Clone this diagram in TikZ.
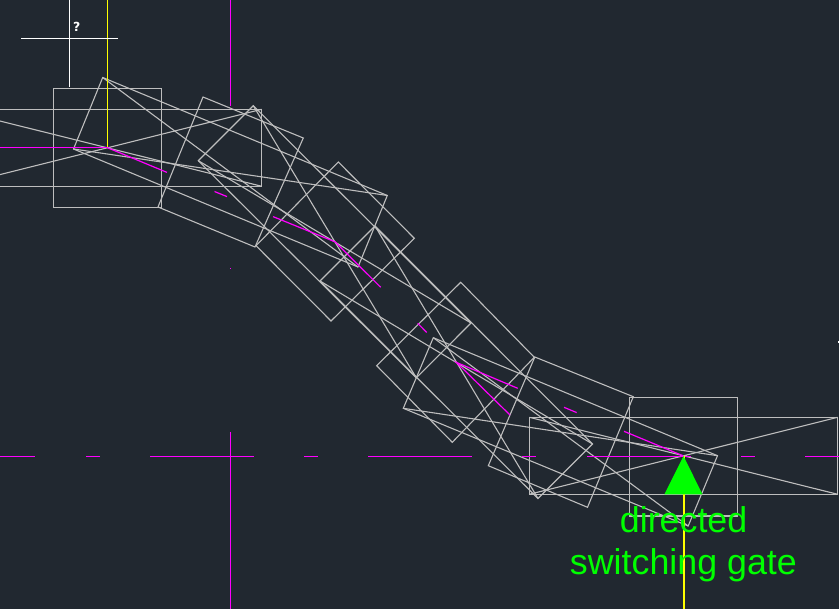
\documentclass[tikz,border=0pt]{standalone}
\usepackage{fontspec}
\setmainfont{Liberation Sans}
\newfontfamily\qfont{DejaVu Sans}
\definecolor{bgc}{HTML}{212830}
\definecolor{gatec}{HTML}{BEBEBE}
\definecolor{magc}{HTML}{FF00FF}
\definecolor{yelc}{HTML}{FFFF00}
\definecolor{grnc}{HTML}{00FF00}
\tikzset{
  blockline/.style={draw=gatec,line width=1.1pt,line join=miter},
  axisline/.style={draw=magc,line width=1.2pt},
  centreline/.style={draw=yelc,line width=2pt},
  cursorline/.style={draw=white,line width=1.1pt},
  gatetext/.style={text=grnc,font=\fontsize{35.8}{36}\selectfont,anchor=base,inner sep=0pt},
}
\newcommand{\gatebox}[8]{%
  \draw[blockline] (#1,#2) -- (#3,#4) -- (#5,#6) -- (#7,#8) -- cycle;
  \draw[blockline] (#1,#2) -- (#5,#6) (#3,#4) -- (#7,#8);}
\newcommand{\blockbox}[8]{%
  \draw[blockline] (#1,#2) -- (#3,#4) -- (#5,#6) -- (#7,#8) -- cycle;}
\begin{document}
\begin{tikzpicture}[x=1pt,y=-1pt]
\fill[bgc] (0,0) rectangle (839,609);
\useasboundingbox (0,0) rectangle (839,609);
\clip (0,0) rectangle (839,609);
% blocks and gates
\blockbox{53.3}{88.3}{161.7}{88.3}{161.7}{207.3}{53.3}{207.3}
\gatebox{-47}{109.3}{261.7}{109.3}{261.7}{186.3}{-47}{186.3}
\blockbox{203}{97}{303.3}{138}{255}{247}{158}{207}
\gatebox{102.7}{77.5}{387.3}{195.5}{358}{267}{73.5}{149}
\blockbox{338.3}{162}{414.3}{238.3}{331}{321}{256}{245.7}
\gatebox{253.3}{105.7}{471}{323}{416.3}{377.8}{198.3}{160.7}
\blockbox{460.7}{282.3}{534.3}{357.3}{452.3}{442.3}{376.7}{365.7}
\gatebox{375}{226}{592.5}{444}{538}{498.5}{320}{281}
\blockbox{534.8}{357}{633.3}{396.7}{587.5}{507.3}{488.3}{465.7}
\gatebox{433.3}{337.7}{717.5}{455.7}{688.2}{526}{403.3}{408.3}
\blockbox{629.3}{397.3}{737.7}{397.3}{737.7}{516}{629.3}{516}
\gatebox{529.3}{417.3}{837.7}{417.3}{837.7}{494.3}{529.3}{494.3}
% axes
\draw[axisline] (0,456.5) -- (35,456.5) (86,456.5) -- (100,456.5) (150,456.5) -- (254,456.5)
  (304,456.5) -- (318,456.5) (368,456.5) -- (472,456.5) (522,456.5) -- (536,456.5)
  (587,456.5) -- (691,456.5) (741,456.5) -- (755,456.5) (805,456.5) -- (839,456.5);
\draw[axisline] (230.5,0) -- (230.5,106) (230.5,432) -- (230.5,609);
\fill[magc] (230,268.5) rectangle (231,269.5);
\draw[axisline] (107,147.5) -- (167,172.4) (214.5,191.5) -- (227,196.6)
  (273,216.6) -- (335,241.8) -- (380.7,287.3) (417.7,323.3) -- (426.7,332.4)
  (510,415) -- (456.4,362.4) -- (517.7,388.3) (564,407.3) -- (576.7,412.6)
  (624,431.3) -- (683.5,456);
\fill[magc] (0,146.6) rectangle (107,148.2);
\fill[yelc] (106.6,0) rectangle (108.2,147.5);
\fill[yelc] (682.9,456) rectangle (684.5,609);
% cursor
\draw[cursorline] (21,38.5) -- (118,38.5) (69.5,0) -- (69.5,87);
\node[text=white,font=\qfont\bfseries\fontsize{12.5}{12.5}\selectfont,inner sep=0pt] (cursorq) at (76.7,26.5) {?};
\fill[white] (837.5,341) rectangle (839,343);
% gate marker and label
\fill[grnc] (683.5,456) -- (702.4,494.3) -- (664.4,494.3) -- cycle;
\node[gatetext] (gatea) at (683.6,532.7) {directed};
\node[gatetext] (gateb) at (683.4,575) {switching gate};
\end{tikzpicture}
\end{document}
